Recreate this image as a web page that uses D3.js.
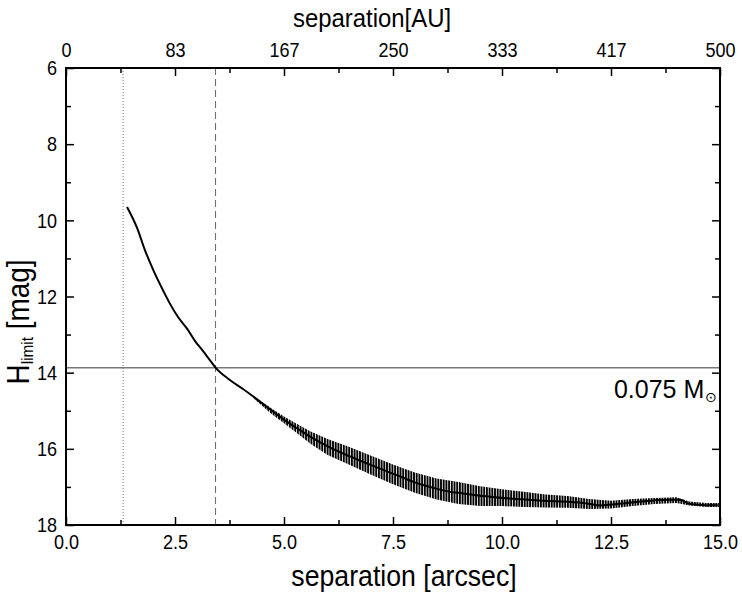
<!DOCTYPE html>
<html><head><meta charset="utf-8">
<script src="https://cdn.jsdelivr.net/npm/d3@7"></script>
<style>body{margin:0;background:#fff;} svg{display:block;font-family:"Liberation Sans",Arial,sans-serif;}</style>
</head><body>
<svg id="chart" width="742" height="594"></svg>
<script>
// ---- data ----
const sepArcsec = [1.40,1.63,1.81,2.00,2.20,2.39,2.57,2.78,2.96,3.14,3.30,3.44,3.72,4.06,4.38,4.68,4.98,5.30,5.60,6.06,6.51,6.81,7.20,7.59,8.00,8.35,8.81,9.11,9.56,10.34,11.10,11.86,12.25,12.64,13.33,13.85,14.08,14.31,14.66,14.95];
const hLimit    = [9.65,10.20,10.78,11.30,11.78,12.20,12.54,12.85,13.17,13.43,13.67,13.88,14.16,14.43,14.70,14.96,15.22,15.46,15.68,15.97,16.20,16.34,16.52,16.69,16.88,17.00,17.13,17.17,17.24,17.32,17.37,17.42,17.48,17.45,17.37,17.34,17.34,17.45,17.48,17.48];
// scatter envelope of the noisy part
const bandSep    = [4.3,4.7,5.0,5.3,5.6,6.0,6.5,7.0,7.5,8.0,8.5,9.0,9.5,10.0,10.5,11.0,11.5,12.0,12.5,13.0,13.5,14.0,14.3,14.7,15.0];
const bandBright = [14.61,14.93,15.15,15.35,15.54,15.74,15.95,16.18,16.41,16.62,16.78,16.87,16.98,17.06,17.13,17.20,17.24,17.32,17.36,17.32,17.29,17.27,17.38,17.42,17.42];
const bandFaint  = [14.67,15.07,15.33,15.59,15.86,16.16,16.42,16.68,16.93,17.15,17.33,17.45,17.50,17.50,17.53,17.54,17.55,17.58,17.57,17.50,17.45,17.42,17.49,17.53,17.53];
const xTicks = [0,2.5,5,7.5,10,12.5,15];
const xTickLabels = ["0.0","2.5","5.0","7.5","10.0","12.5","15.0"];
const auTickLabels = ["0","83","167","250","333","417","500"];
const yTicks = [6,8,10,12,14,16,18];
const limitMag = 13.87;          // 0.075 Msun line
const innerSep = 1.31;           // dotted line
const dashedSep = 3.43;          // dashed line

// ---- layout ----
const W = 742, H = 594;
const m = {left:66, right:22, top:68, bottom:69};
const svg = d3.select("#chart");
const x = d3.scaleLinear().domain([0,15]).range([m.left, W-m.right]);
const y = d3.scaleLinear().domain([6,18]).range([m.top, H-m.bottom]);
const FONT = "'Liberation Sans',Arial,sans-serif";

// hatch pattern for the scatter band
const defs = svg.append("defs");
const pat = defs.append("pattern").attr("id","hatch").attr("patternUnits","userSpaceOnUse")
  .attr("width",2.7).attr("height",10);
pat.append("rect").attr("x",0).attr("y",0).attr("width",1.9).attr("height",10).attr("fill","#000");

// reference lines
svg.append("line").attr("x1",x(innerSep)).attr("x2",x(innerSep)).attr("y1",y(6)).attr("y2",y(18))
  .attr("stroke","#777").attr("stroke-width",1).attr("stroke-dasharray","1,2");
svg.append("line").attr("x1",x(dashedSep)).attr("x2",x(dashedSep)).attr("y1",y(6)).attr("y2",y(18))
  .attr("stroke","#666").attr("stroke-width",1).attr("stroke-dasharray","7,4");
svg.append("line").attr("x1",x(0)).attr("x2",x(15)).attr("y1",y(limitMag)).attr("y2",y(limitMag))
  .attr("stroke","#777").attr("stroke-width",1.5);

// scatter band
const band = bandSep.map((s,i)=>({s, b:bandBright[i], f:bandFaint[i]}));
svg.append("path").datum(band)
  .attr("d", d3.area().x(d=>x(d.s)).y0(d=>y(d.f)).y1(d=>y(d.b)).curve(d3.curveLinear))
  .attr("fill","url(#hatch)");

// curve
const pts = sepArcsec.map((s,i)=>({s, h:hLimit[i]}));
svg.append("path").datum(pts)
  .attr("d", d3.line().x(d=>x(d.s)).y(d=>y(d.h)).curve(d3.curveMonotoneX))
  .attr("fill","none").attr("stroke","#000").attr("stroke-width",2);

// axes
function styleAxis(g){
  g.select(".domain").remove();
  g.selectAll(".tick line").attr("stroke","#000").attr("stroke-width",1.5);
  g.selectAll(".tick text").attr("font-size",21).attr("fill","#000").attr("font-family",FONT);
}
// narrow the tick label glyphs horizontally (reference font is condensed)
function condense(g, k){
  g.selectAll(".tick text").each(function(){
    const t = d3.select(this);
    const tx = +t.attr("x")||0;
    t.attr("transform",`translate(${tx},0) scale(${k},1) translate(${-tx},0)`);
  });
}
const xMinor = d3.range(1.25,15,2.5);
const yMinor = [7,9,11,13,15,17];

// bottom
const gb = svg.append("g").attr("transform",`translate(0,${y(18)})`)
  .call(d3.axisBottom(x).tickValues(xTicks).tickFormat((d,i)=>xTickLabels[i]).tickSizeInner(-8).tickSizeOuter(0).tickPadding(9));
styleAxis(gb); condense(gb,0.86);
svg.append("g").attr("transform",`translate(0,${y(18)})`)
  .call(d3.axisBottom(x).tickValues(xMinor).tickFormat("").tickSizeInner(-5).tickSizeOuter(0)).call(styleAxis);
// top
const gt = svg.append("g").attr("transform",`translate(0,${y(6)})`)
  .call(d3.axisTop(x).tickValues(xTicks).tickFormat((d,i)=>auTickLabels[i]).tickSizeInner(-8).tickSizeOuter(0).tickPadding(11));
styleAxis(gt); condense(gt,0.86);
svg.append("g").attr("transform",`translate(0,${y(6)})`)
  .call(d3.axisTop(x).tickValues(xMinor).tickFormat("").tickSizeInner(-5).tickSizeOuter(0)).call(styleAxis);
// left
const gl = svg.append("g").attr("transform",`translate(${x(0)},0)`)
  .call(d3.axisLeft(y).tickValues(yTicks).tickFormat(d3.format("d")).tickSizeInner(-8).tickSizeOuter(0).tickPadding(9));
styleAxis(gl); condense(gl,0.86);
svg.append("g").attr("transform",`translate(${x(0)},0)`)
  .call(d3.axisLeft(y).tickValues(yMinor).tickFormat("").tickSizeInner(-5).tickSizeOuter(0)).call(styleAxis);
// right
svg.append("g").attr("transform",`translate(${x(15)},0)`)
  .call(d3.axisRight(y).tickValues(yTicks).tickFormat("").tickSizeInner(-8).tickSizeOuter(0)).call(styleAxis);
svg.append("g").attr("transform",`translate(${x(15)},0)`)
  .call(d3.axisRight(y).tickValues(yMinor).tickFormat("").tickSizeInner(-5).tickSizeOuter(0)).call(styleAxis);

// frame
svg.append("rect").attr("x",x(0)).attr("y",y(6)).attr("width",x(15)-x(0)).attr("height",y(18)-y(6))
  .attr("fill","none").attr("stroke","#000").attr("stroke-width",2);

// titles
svg.append("text").attr("transform","translate(404,586) scale(0.92,1)").attr("text-anchor","middle")
  .attr("font-size",29).text("separation [arcsec]");
svg.append("text").attr("transform","translate(372,27) scale(0.92,1)").attr("text-anchor","middle")
  .attr("font-size",26).text("separation[AU]");
const yl = svg.append("text").attr("transform",`translate(29,322) rotate(-90) scale(0.9,1)`)
  .attr("text-anchor","middle").attr("font-size",31);
yl.append("tspan").text("H");
yl.append("tspan").attr("font-size",17).attr("dy",4).text("limit");
yl.append("tspan").attr("dy",-4).text(" [mag]");

// 0.075 Msun label
const ml = svg.append("text").attr("x",x(14.64)).attr("y",y(limitMag)+30).attr("text-anchor","end").attr("font-size",25);
ml.append("tspan").text("0.075 M");
svg.append("text").attr("x",x(14.64)+1).attr("y",y(limitMag)+34).attr("font-size",14).text("\u2299");
</script>
</body></html>
